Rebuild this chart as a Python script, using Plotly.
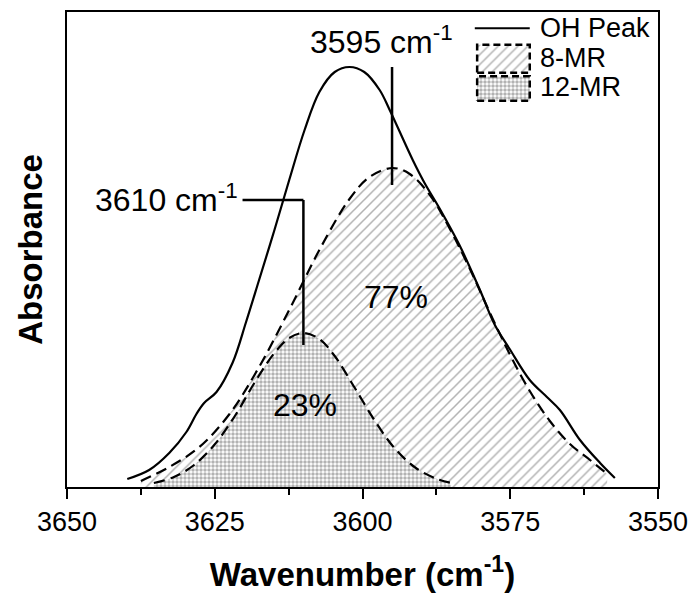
import plotly.graph_objects as go

# ---- data ----
wn_oh = [3639.8, 3636.1, 3632.7, 3629.8, 3628.1, 3626.8, 3624.7, 3622.0, 3619.7, 3617.5,
         3614.9, 3612.4, 3609.8, 3607.3, 3604.7, 3602.2, 3599.7, 3597.1, 3595.4, 3591.5,
         3589.5, 3587.0, 3583.6, 3580.2, 3577.6, 3575.1, 3571.7, 3568.8, 3566.6, 3563.2,
         3559.8, 3557.3]
abs_oh = [0.008, 0.017, 0.034, 0.055, 0.073, 0.084, 0.095, 0.124, 0.165, 0.207,
          0.257, 0.307, 0.357, 0.395, 0.415, 0.420, 0.415, 0.397, 0.377, 0.327,
          0.304, 0.279, 0.242, 0.198, 0.162, 0.138, 0.107, 0.090, 0.077, 0.047,
          0.024, 0.009]

wn_8mr = [3637.5, 3632.7, 3627.6, 3622.5, 3617.5, 3612.4, 3607.3, 3602.2, 3598.8, 3594.9,
          3592.0, 3588.6, 3585.3, 3581.9, 3578.5, 3575.1, 3571.7, 3568.3, 3564.9, 3561.5,
          3558.6]
abs_8mr = [0.006, 0.020, 0.040, 0.073, 0.120, 0.177, 0.237, 0.288, 0.310, 0.319,
           0.313, 0.292, 0.259, 0.219, 0.175, 0.133, 0.096, 0.066, 0.043, 0.027,
           0.013]

wn_12mr = [3635.3, 3631.9, 3628.5, 3625.1, 3621.7, 3618.3, 3614.9, 3612.4, 3610.0, 3607.3,
           3604.7, 3601.4, 3598.0, 3594.6, 3591.2, 3587.8, 3585.0]
abs_12mr = [0.004, 0.010, 0.022, 0.042, 0.070, 0.104, 0.134, 0.149, 0.154, 0.148,
            0.131, 0.100, 0.067, 0.039, 0.020, 0.009, 0.004]

peak_labels = [3610, 3595]          # cm-1
area_pct = {"12-MR": 23, "8-MR": 77}
x_ticks = [3650, 3625, 3600, 3575, 3550]
legend_names = ["OH Peak", "8-MR", "12-MR"]

FONT = "Liberation Sans, Arial, Helvetica, sans-serif"
DASH = "11px,6px"
HATCH = dict(shape="/", fgcolor="#666666", bgcolor="white", size=7, solidity=0.22)
STIPPLE = dict(shape=".", fgcolor="#666666", bgcolor="white", size=4, solidity=0.6)

fig = go.Figure()

fig.add_trace(go.Scatter(
    x=wn_8mr, y=abs_8mr, name=legend_names[1], mode="lines", line_shape="spline",
    line=dict(color="black", width=2.2, dash=DASH),
    fill="tozeroy", fillcolor="white", fillpattern=HATCH, showlegend=False,
))
fig.add_trace(go.Scatter(
    x=wn_12mr, y=abs_12mr, name=legend_names[2], mode="lines", line_shape="spline",
    line=dict(color="black", width=2.2, dash=DASH),
    fill="tozeroy", fillcolor="white", fillpattern=STIPPLE, showlegend=False,
))
fig.add_trace(go.Scatter(
    x=wn_oh, y=abs_oh, name=legend_names[0], mode="lines", line_shape="spline",
    line=dict(color="black", width=2.2), showlegend=False,
))

# ---- legend drawn on an invisible overlay axis (0..1 over the plot area) ----
lx0, lx1 = 0.694, 0.783
fig.add_trace(go.Scatter(x=[lx0 - 0.004, lx1], y=[0.966, 0.966], xaxis="x2", yaxis="y2",
                         mode="lines", line=dict(color="black", width=2),
                         showlegend=False, hoverinfo="skip"))
for (yb, yt), patt in [((0.872, 0.931), HATCH), ((0.813, 0.865), STIPPLE)]:
    fig.add_trace(go.Scatter(x=[lx0, lx1, lx1, lx0, lx0], y=[yb, yb, yt, yt, yb],
                             xaxis="x2", yaxis="y2", mode="lines", fill="toself",
                             fillcolor="white", fillpattern=patt,
                             line=dict(color="black", width=2.5, dash="7px,4px"),
                             showlegend=False, hoverinfo="skip"))
for name, yc in zip(legend_names, [0.966, 0.903, 0.843]):
    fig.add_annotation(x=0.797, y=yc, xref="x2", yref="y2", xanchor="left", yanchor="middle",
                       showarrow=False, text=name, font=dict(size=27, color="black"))

p12 = max(abs_12mr)
p8 = max(abs_8mr)
poh = max(abs_oh)

# leader lines
fig.add_shape(type="line", x0=peak_labels[0], x1=peak_labels[0], y0=p12 - 0.012, y1=0.287,
              line=dict(color="black", width=2.5))
fig.add_shape(type="line", x0=peak_labels[0], x1=3620.3, y0=0.287, y1=0.287,
              line=dict(color="black", width=2.5))
fig.add_shape(type="line", x0=peak_labels[1], x1=peak_labels[1], y0=p8 - 0.017, y1=poh,
              line=dict(color="black", width=2.5))

fig.add_annotation(x=3620.8, y=0.289, xanchor="right", yanchor="middle", showarrow=False,
                   text=f"{peak_labels[0]} cm<sup>-1</sup>", font=dict(size=32, color="black"))
fig.add_annotation(x=peak_labels[1] + 1.8, y=0.447, xanchor="center", yanchor="middle",
                   showarrow=False, text=f"{peak_labels[1]} cm<sup>-1</sup>",
                   font=dict(size=32, color="black"))
fig.add_annotation(x=3594.3, y=0.19, showarrow=False, text=f"{area_pct['8-MR']}%",
                   font=dict(size=32, color="black"))
fig.add_annotation(x=3609.8, y=0.082, showarrow=False, text=f"{area_pct['12-MR']}%",
                   font=dict(size=32, color="black"))

fig.update_layout(
    width=691, height=602,
    margin=dict(l=67, r=33, t=12, b=115),
    plot_bgcolor="white", paper_bgcolor="white",
    font=dict(family=FONT, color="black"),
    showlegend=False,
    xaxis=dict(
        range=[3650, 3550], tickvals=x_ticks, ticks="outside", ticklen=10, tickwidth=2,
        tickcolor="black", showline=True, linecolor="black", linewidth=2, mirror=True,
        showgrid=False, zeroline=False, tickfont=dict(size=27), automargin=False,
        minor=dict(dtick=12.5, ticks="outside", ticklen=6, tickwidth=2, tickcolor="black",
                   showgrid=False),
        title=dict(text="<b>Wavenumber (cm<sup>-1</sup>)</b>", font=dict(size=33), standoff=26),
    ),
    yaxis=dict(
        range=[0, 0.475], showticklabels=False, ticks="", showline=True, linecolor="black",
        linewidth=2, mirror=True, showgrid=False, zeroline=False, automargin=False,
        title=dict(text="<b>Absorbance</b>", font=dict(size=33), standoff=12),
    ),
    xaxis2=dict(overlaying="x", anchor="y2", range=[0, 1], visible=False, fixedrange=True),
    yaxis2=dict(overlaying="y", anchor="x2", range=[0, 1], visible=False, fixedrange=True),
)

fig.write_html("out.html")
